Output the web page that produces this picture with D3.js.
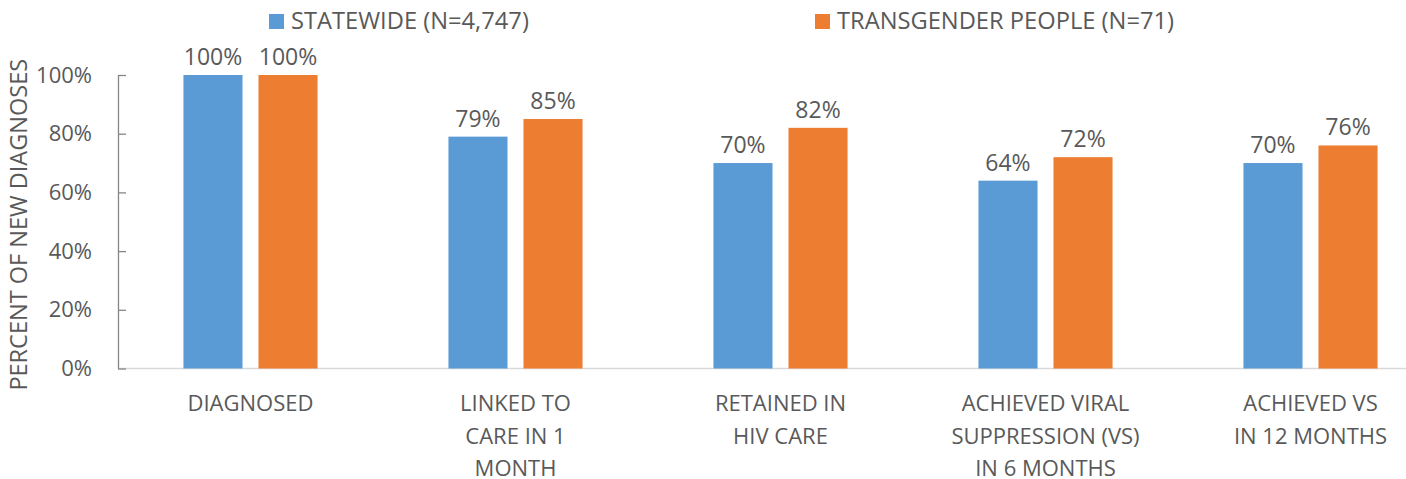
<!DOCTYPE html>
<html><head><meta charset="utf-8">
<script src="https://cdn.jsdelivr.net/npm/d3@7"></script>
<style>body{margin:0;background:#fff;} svg{display:block;} text{font-family:"Open Sans","Liberation Sans",sans-serif;fill:#595959;}</style>
</head><body><svg id="c" width="1406" height="479"></svg>
<script>
const categories = [["DIAGNOSED"],["LINKED TO","CARE IN 1","MONTH"],["RETAINED IN","HIV CARE"],["ACHIEVED VIRAL","SUPPRESSION (VS)","IN 6 MONTHS"],["ACHIEVED VS","IN 12 MONTHS"]];
const seriesNames = ["STATEWIDE (N=4,747)","TRANSGENDER PEOPLE (N=71)"];
const statewide = [100,79,70,64,70];
const transgender = [100,85,82,72,76];
const yTicks = [0,20,40,60,80,100];
const colors = ["#5b9bd5","#ed7d31"];

(function(){
const svg = d3.select("#c");
const pLeft = 118, pRight = 1443, pTop = 75, pBottom = 368.5;
const x0 = d3.scaleBand().domain(d3.range(categories.length)).range([pLeft,pRight]).paddingInner(0.494).paddingOuter(0.247);
const x1 = d3.scaleBand().domain([0,1]).range([0,x0.bandwidth()]).paddingInner(0.213);
const y = d3.scaleLinear().domain([0,100]).range([pBottom,pTop]);
const series = [statewide, transgender];

svg.append("line").attr("x1",pLeft).attr("x2",1406).attr("y1",pBottom).attr("y2",pBottom).attr("stroke","#d9d9d9").attr("stroke-width",1.5);

const yAxis = d3.axisLeft(y).tickValues(yTicks).tickFormat(d=>d+"%").tickSizeInner(-8).tickSizeOuter(0).tickPadding(26);
const ga = svg.append("g").attr("transform",`translate(${pLeft},0)`).call(yAxis);
ga.attr("font-family",null).attr("font-size",null);
ga.select(".domain").attr("stroke","#868686").attr("stroke-width",1.3);
ga.selectAll(".tick line").attr("stroke","#868686").attr("stroke-width",1.3);
ga.selectAll(".tick text").style("font-size","22px").attr("fill","#595959");

series.forEach((vals,s)=>{
  const g = svg.append("g");
  g.selectAll("rect").data(vals).join("rect")
    .attr("x",(d,i)=>x0(i)+x1(s)).attr("width",x1.bandwidth())
    .attr("y",d=>y(d)).attr("height",d=>pBottom-y(d)).attr("fill",colors[s]);
  g.selectAll("text").data(vals).join("text")
    .attr("x",(d,i)=>x0(i)+x1(s)+x1.bandwidth()/2).attr("y",d=>y(d)-10)
    .attr("text-anchor","middle").style("font-size","23px").attr("fill","#404040").text(d=>d+"%");
});

categories.forEach((lines,i)=>{
  const t = svg.append("text").attr("text-anchor","middle").style("font-size","22px");
  lines.forEach((l,k)=>t.append("tspan").attr("x",x0(i)+x0.bandwidth()/2).attr("y",411+k*32.5).text(l));
});

svg.append("text").attr("transform",`translate(27,${(pTop+pBottom)/2+3}) rotate(-90)`).attr("text-anchor","middle").style("font-size","23.5px").text("PERCENT OF NEW DIAGNOSES");

const legX = [269,815];
seriesNames.forEach((n,s)=>{
  svg.append("rect").attr("x",legX[s]).attr("y",14).attr("width",15).attr("height",15).attr("fill",colors[s]);
  svg.append("text").attr("x",legX[s]+22).attr("y",29).style("font-size","23.7px").text(n);
});
})();
</script></body></html>
